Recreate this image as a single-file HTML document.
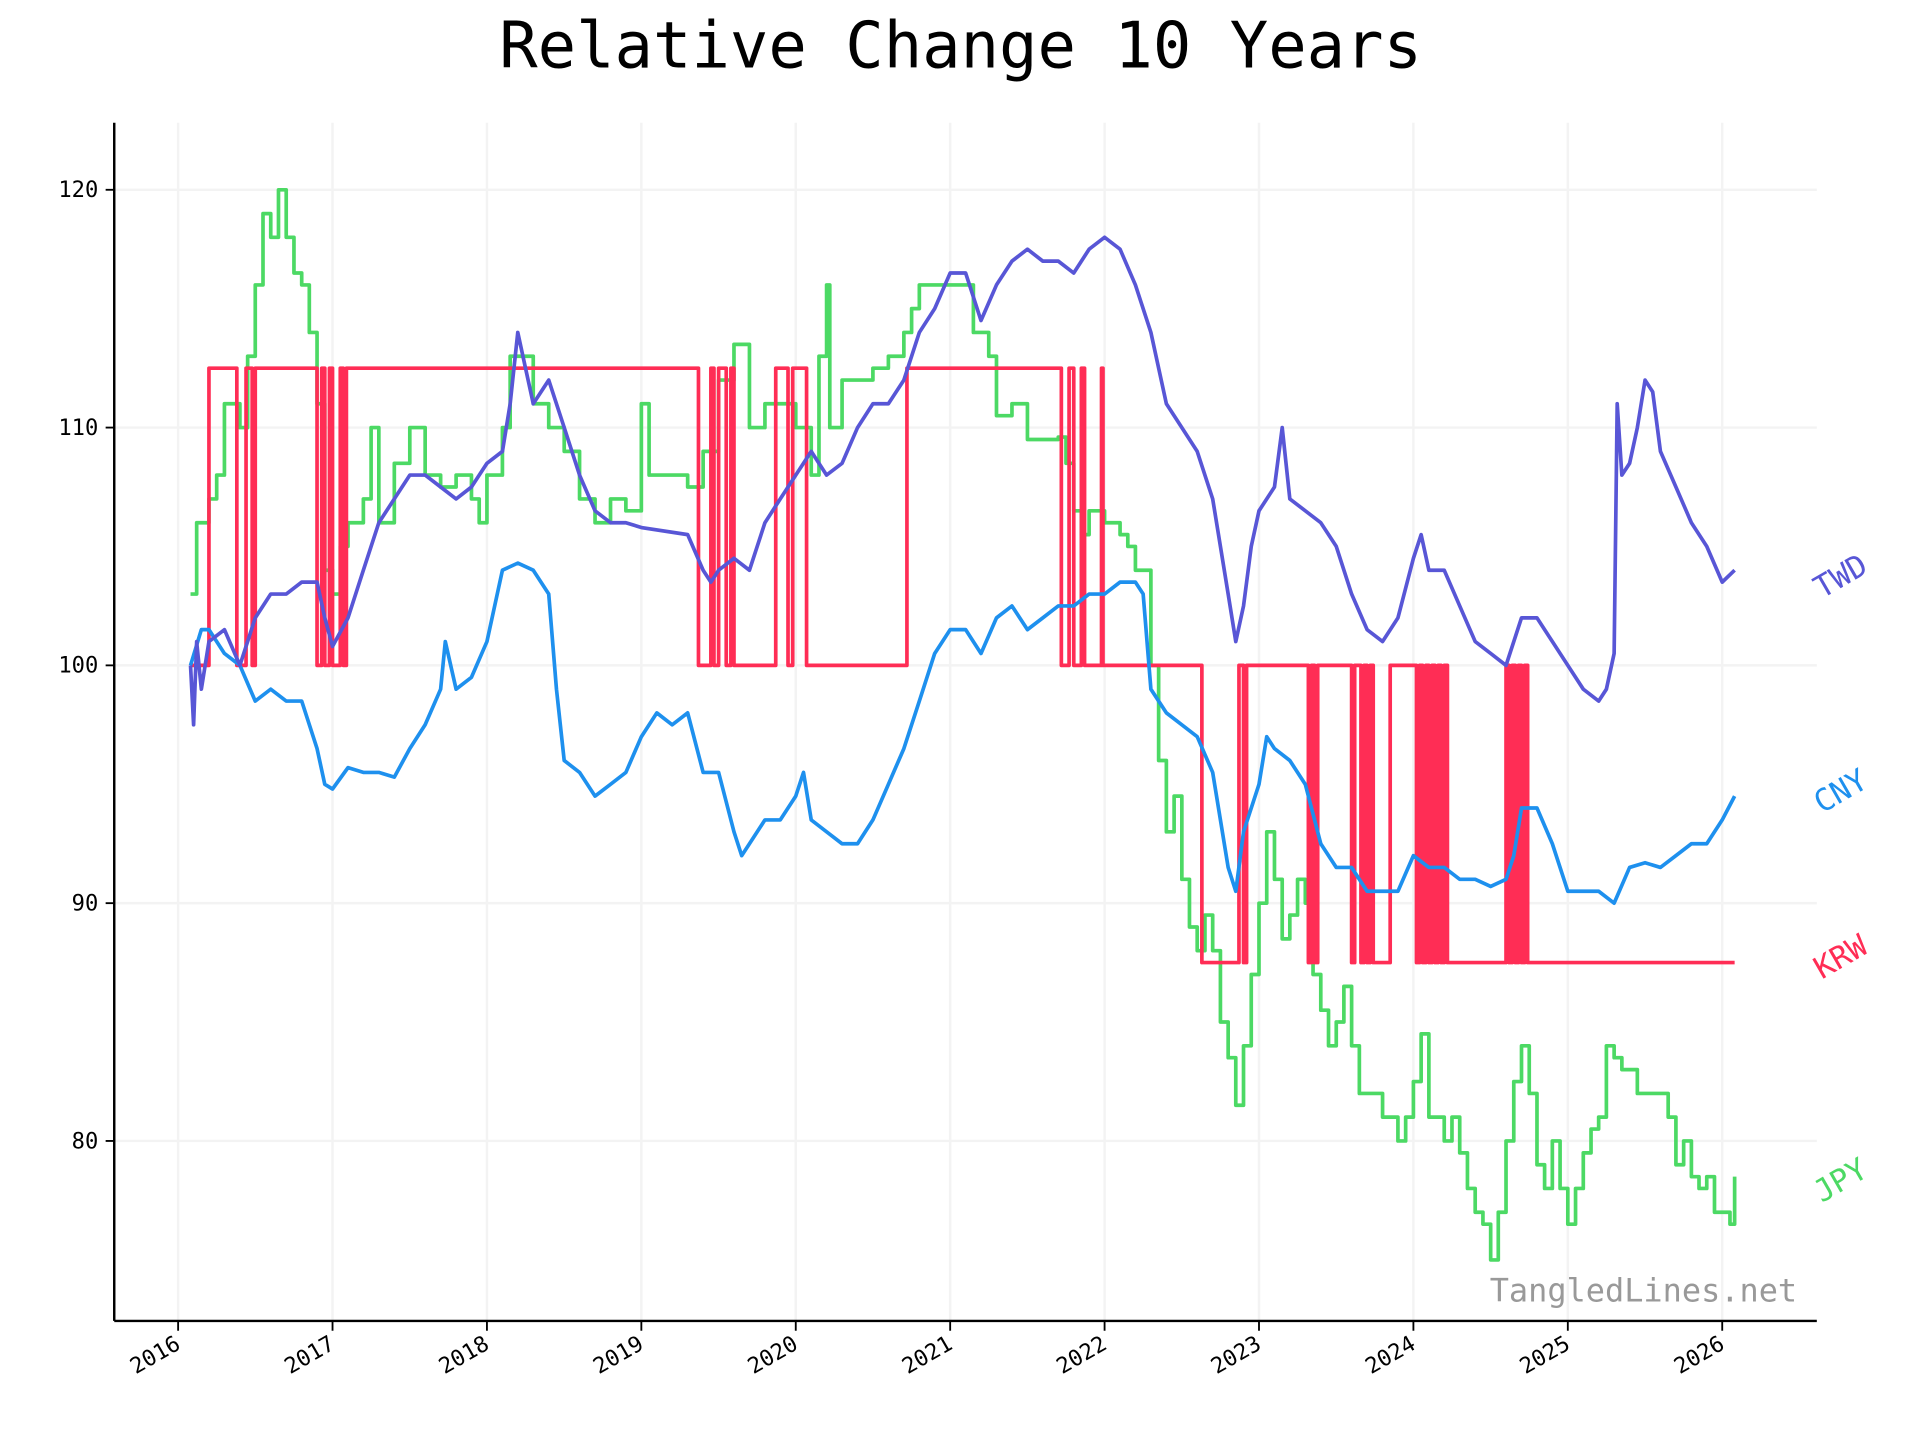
<!DOCTYPE html>
<html><head><meta charset="utf-8"><style>
html,body{margin:0;padding:0;background:#fff;}
svg{display:block;font-family:"DejaVu Sans Mono","Liberation Mono",monospace;}
</style></head><body>
<svg id="chart" width="1920" height="1440" viewBox="0 0 1563 1173" preserveAspectRatio="none" xmlns="http://www.w3.org/2000/svg">
<rect width="1563" height="1173" fill="#fff"/>
<text x="782" y="55" font-size="52" text-anchor="middle" fill="#000">Relative Change 10 Years</text>
<g id="grid"></g>
<g id="series"></g>
<g id="axes"></g>
<text x="1463" y="1060" font-size="26" text-anchor="end" fill="#999">TangledLines.net</text>
</svg>
<script>
const yearTicks=[2016,2017,2018,2019,2020,2021,2022,2023,2024,2025,2026];
const yTicks=[80,90,100,110,120];
const seriesNames=["TWD","CNY","KRW","JPY"];
const twdT=[2016.08,2016.1,2016.12,2016.15,2016.2,2016.3,2016.4,2016.5,2016.6,2016.7,2016.8,2016.9,2016.95,2017.0,2017.1,2017.2,2017.3,2017.4,2017.5,2017.6,2017.7,2017.8,2017.9,2017.95,2018.0,2018.1,2018.15,2018.2,2018.3,2018.4,2018.5,2018.6,2018.7,2018.8,2018.9,2019.0,2019.3,2019.4,2019.45,2019.5,2019.6,2019.7,2019.8,2019.9,2020.0,2020.1,2020.2,2020.3,2020.4,2020.5,2020.6,2020.7,2020.8,2020.9,2021.0,2021.1,2021.2,2021.3,2021.4,2021.5,2021.6,2021.7,2021.8,2021.9,2022.0,2022.1,2022.2,2022.3,2022.4,2022.5,2022.6,2022.7,2022.75,2022.8,2022.85,2022.9,2022.95,2023.0,2023.1,2023.15,2023.2,2023.3,2023.4,2023.5,2023.6,2023.7,2023.8,2023.9,2024.0,2024.05,2024.1,2024.2,2024.3,2024.4,2024.5,2024.6,2024.7,2024.8,2024.9,2025.0,2025.1,2025.2,2025.25,2025.3,2025.32,2025.35,2025.4,2025.45,2025.5,2025.55,2025.6,2025.7,2025.8,2025.9,2026.0,2026.08];
const twdV=[100,97.5,101,99,101,101.5,100,102,103,103,103.5,103.5,102,100.8,102,104,106,107,108,108,107.5,107,107.5,108,108.5,109,111,114,111,112,110,108,106.5,106,106,105.8,105.5,104,103.5,104,104.5,104,106,107,108,109,108,108.5,110,111,111,112,114,115,116.5,116.5,114.5,116,117,117.5,117,117,116.5,117.5,118,117.5,116,114,111,110,109,107,105,103,101,102.5,105,106.5,107.5,110,107,106.5,106,105,103,101.5,101,102,104.5,105.5,104,104,102.5,101,100.5,100,102,102,101,100,99,98.5,99,100.5,111,108,108.5,110,112,111.5,109,107.5,106,105,103.5,104];
const cnyT=[2016.08,2016.15,2016.2,2016.3,2016.4,2016.5,2016.6,2016.7,2016.8,2016.9,2016.95,2017.0,2017.1,2017.2,2017.3,2017.4,2017.5,2017.6,2017.7,2017.73,2017.8,2017.9,2018.0,2018.1,2018.2,2018.3,2018.4,2018.45,2018.5,2018.6,2018.7,2018.8,2018.9,2019.0,2019.1,2019.2,2019.3,2019.4,2019.5,2019.6,2019.65,2019.7,2019.8,2019.9,2020.0,2020.05,2020.1,2020.2,2020.3,2020.4,2020.5,2020.6,2020.7,2020.8,2020.9,2021.0,2021.1,2021.2,2021.3,2021.4,2021.5,2021.6,2021.7,2021.8,2021.9,2022.0,2022.1,2022.2,2022.25,2022.3,2022.4,2022.5,2022.6,2022.7,2022.8,2022.85,2022.9,2023.0,2023.05,2023.1,2023.2,2023.3,2023.4,2023.5,2023.6,2023.7,2023.8,2023.9,2024.0,2024.1,2024.2,2024.3,2024.4,2024.5,2024.6,2024.65,2024.7,2024.8,2024.9,2025.0,2025.1,2025.2,2025.3,2025.4,2025.5,2025.6,2025.7,2025.8,2025.9,2026.0,2026.08];
const cnyV=[100,101.5,101.5,100.5,100,98.5,99,98.5,98.5,96.5,95,94.8,95.7,95.5,95.5,95.3,96.5,97.5,99,101,99,99.5,101,104,104.3,104,103,99,96,95.5,94.5,95,95.5,97,98,97.5,98,95.5,95.5,93,92,92.5,93.5,93.5,94.5,95.5,93.5,93,92.5,92.5,93.5,95,96.5,98.5,100.5,101.5,101.5,100.5,102,102.5,101.5,102,102.5,102.5,103,103,103.5,103.5,103,99,98,97.5,97,95.5,91.5,90.5,93,95,97,96.5,96,95,92.5,91.5,91.5,90.5,90.5,90.5,92,91.5,91.5,91,91,90.7,91,92,94,94,92.5,90.5,90.5,90.5,90,91.5,91.7,91.5,92,92.5,92.5,93.5,94.5];
const jpyT=[2016.08,2016.12,2016.2,2016.25,2016.3,2016.4,2016.45,2016.5,2016.55,2016.6,2016.65,2016.7,2016.75,2016.8,2016.85,2016.9,2016.95,2017.0,2017.05,2017.1,2017.2,2017.25,2017.3,2017.4,2017.5,2017.6,2017.7,2017.8,2017.9,2017.95,2018.0,2018.1,2018.15,2018.25,2018.3,2018.4,2018.5,2018.6,2018.7,2018.8,2018.9,2019.0,2019.05,2019.1,2019.2,2019.3,2019.4,2019.5,2019.6,2019.7,2019.8,2019.9,2020.0,2020.1,2020.15,2020.2,2020.22,2020.3,2020.4,2020.5,2020.6,2020.7,2020.75,2020.8,2020.9,2021.0,2021.1,2021.15,2021.25,2021.3,2021.4,2021.5,2021.6,2021.7,2021.75,2021.8,2021.85,2021.9,2022.0,2022.1,2022.15,2022.2,2022.3,2022.35,2022.4,2022.45,2022.5,2022.55,2022.6,2022.65,2022.7,2022.75,2022.8,2022.85,2022.9,2022.95,2023.0,2023.05,2023.1,2023.15,2023.2,2023.25,2023.3,2023.35,2023.4,2023.45,2023.5,2023.55,2023.6,2023.65,2023.7,2023.8,2023.9,2023.95,2024.0,2024.05,2024.1,2024.2,2024.25,2024.3,2024.35,2024.4,2024.45,2024.5,2024.55,2024.6,2024.65,2024.7,2024.75,2024.8,2024.85,2024.9,2024.95,2025.0,2025.05,2025.1,2025.15,2025.2,2025.25,2025.3,2025.35,2025.4,2025.45,2025.5,2025.6,2025.65,2025.7,2025.75,2025.8,2025.85,2025.9,2025.95,2026.0,2026.05,2026.08];
const jpyV=[103,106,107,108,111,110,113,116,119,118,120,118,116.5,116,114,111,104,103,105,106,107,110,106,108.5,110,108,107.5,108,107,106,108,110,113,113,111,110,109,107,106,107,106.5,111,108,108,108,107.5,109,112,113.5,110,111,111,110,108,113,116,110,112,112,112.5,113,114,115,116,116,116,116,114,113,110.5,111,109.5,109.5,109.6,108.5,106.5,105.5,106.5,106,105.5,105,104,100,96,93,94.5,91,89,88,89.5,88,85,83.5,81.5,84,87,90,93,91,88.5,89.5,91,90,87,85.5,84,85,86.5,84,82,82,81,80,81,82.5,84.5,81,80,81,79.5,78,77,76.5,75,77,80,82.5,84,82,79,78,80,78,76.5,78,79.5,80.5,81,84,83.5,83,83,82,82,82,81,79,80,78.5,78,78.5,77,77,76.5,78.5];
const krwT=[2016.08,2016.2,2016.38,2016.44,2016.48,2016.5,2016.9,2016.93,2016.95,2016.98,2017.0,2017.05,2017.07,2017.09,2019.37,2019.45,2019.47,2019.5,2019.55,2019.58,2019.6,2019.87,2019.95,2019.98,2020.07,2020.72,2021.72,2021.77,2021.8,2021.85,2021.87,2021.98,2021.99,2022.63,2022.87,2022.9,2022.92,2023.32,2023.34,2023.36,2023.38,2023.6,2023.62,2023.66,2023.68,2023.7,2023.72,2023.74,2023.85,2024.02,2024.04,2024.06,2024.08,2024.1,2024.12,2024.14,2024.16,2024.18,2024.2,2024.22,2024.6,2024.62,2024.64,2024.66,2024.68,2024.7,2024.72,2024.74,2026.08];
const krwV=[100,112.5,100,112.5,100,112.5,100,112.5,100,112.5,100,112.5,100,112.5,100,112.5,100,112.5,100,112.5,100,112.5,100,112.5,100,112.5,100,112.5,100,112.5,100,112.5,100,87.5,100,87.5,100,87.5,100,87.5,100,87.5,100,87.5,100,87.5,100,87.5,100,87.5,100,87.5,100,87.5,100,87.5,100,87.5,100,87.5,100,87.5,100,87.5,100,87.5,100,87.5,87.5];

const NS="http://www.w3.org/2000/svg";
const L=93,R=1479,T=100,B=1076;
function xS(t){return 145+(t-2016)*125.7;}
function yS(v){return 542-(v-100)*19.37;}
function mk(tag,attrs,parent){const e=document.createElementNS(NS,tag);for(const k in attrs)e.setAttribute(k,attrs[k]);parent.appendChild(e);return e;}
const grid=document.getElementById('grid'),axes=document.getElementById('axes'),ser=document.getElementById('series');
yearTicks.forEach(y=>{
  const g=mk('line',{x1:xS(y),x2:xS(y),y1:T,y2:B,stroke:'#f3f3f3','stroke-width':2},grid);
  
  
  const tk=mk('line',{x1:xS(y),x2:xS(y),y1:B,y2:B+8,stroke:'#000','stroke-width':1.5},axes);
  
  
  const tx=mk('text',{x:xS(y)+3,y:B+22,'font-size':18,'text-anchor':'end',transform:`rotate(-30 ${xS(y)+3} ${B+22})`,fill:'#000'},axes);
  tx.textContent=y;
  
  
});
yTicks.forEach(v=>{
  const g=mk('line',{x1:L,x2:R,y1:yS(v),y2:yS(v),stroke:'#f3f3f3','stroke-width':2},grid);
  
  
  const tk=mk('line',{x1:L-7,x2:L,y1:yS(v),y2:yS(v),stroke:'#000','stroke-width':1.5},axes);
  
  
  const tx=mk('text',{x:L-13,y:yS(v)+6,'font-size':18,'text-anchor':'end',fill:'#000'},axes);
  tx.textContent=v;
  
  
});
const la=mk('line',{x1:L,x2:L,y1:T,y2:B,stroke:'#000','stroke-width':2},axes);


const ba=mk('line',{x1:L,x2:R,y1:B,y2:B,stroke:'#000','stroke-width':2},axes);



function pathFor(ts,vs,step){
  let d='';
  for(let i=0;i<ts.length;i++){
    const x=xS(ts[i]).toFixed(1),y=yS(vs[i]).toFixed(1);
    if(i===0)d='M'+x+' '+y;
    else if(step)d+=' H'+x+' V'+y;
    else d+=' L'+x+' '+y;
  }
  return d;
}
const defs=[
  {name:'JPY',t:jpyT,v:jpyV,c:'#4cd964',step:true,ly:962},
  {name:'KRW',t:krwT,v:krwV,c:'#ff2d55',step:true,ly:780},
  {name:'CNY',t:cnyT,v:cnyV,c:'#1e90ee',step:false,ly:645},
  {name:'TWD',t:twdT,v:twdV,c:'#5856d6',step:false,ly:470}
];
defs.forEach(s=>{
  const p=mk('path',{d:pathFor(s.t,s.v,s.step),fill:'none',stroke:s.c,'stroke-width':3,'stroke-linejoin':'round'},ser);
  
  
  const tx=mk('text',{x:1483,y:s.ly+18,'font-size':25,fill:s.c,transform:`rotate(-30 1483 ${s.ly+18})`},ser);
  tx.textContent=s.name;
  
  
});
</script>
</body></html>
